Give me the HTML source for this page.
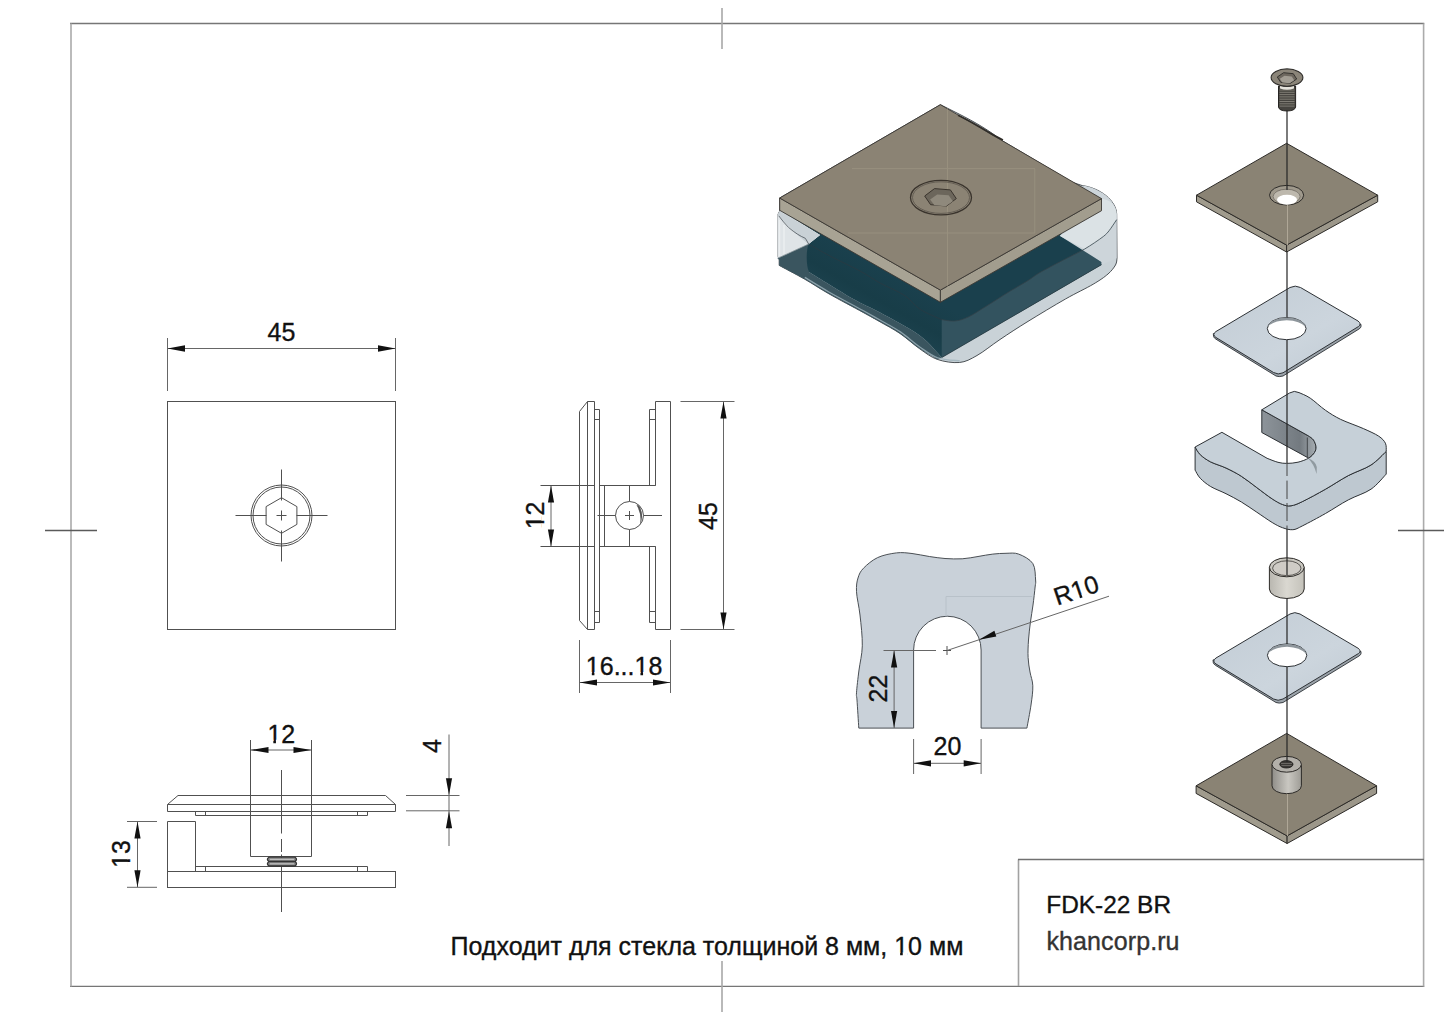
<!DOCTYPE html>
<html><head><meta charset="utf-8">
<style>
html,body{margin:0;padding:0;background:#fff;width:1444px;height:1021px;overflow:hidden}
svg{display:block}
text{font-family:"Liberation Sans",sans-serif;fill:#111;stroke:#111;stroke-width:0.35px}
.fr{stroke:#777;stroke-width:1.6;fill:none}
.ln{stroke:#505050;stroke-width:1;fill:none}
.dm{stroke:#666;stroke-width:1;fill:none}
.ar{fill:#111;stroke:none}
</style></head>
<body>
<svg width="1444" height="1021" viewBox="0 0 1444 1021">
<!-- frame -->
<path d="M70,23.5H1424.3M70,986.4H1424.3" stroke="#767676" stroke-width="1.4" fill="none"/>
<path d="M71,23.5V986.4M1423.6,23.5V986.4" stroke="#ababab" stroke-width="1.6" fill="none"/>
<line x1="722" y1="8" x2="722" y2="49" stroke="#a8a8a8" stroke-width="1.6"/>
<line x1="722" y1="961" x2="722" y2="1012" stroke="#a8a8a8" stroke-width="1.6"/>
<line x1="45" y1="530.5" x2="97" y2="530.5" stroke="#5a5a5a" stroke-width="1.4"/>
<line x1="1398" y1="530.5" x2="1444" y2="530.5" stroke="#5a5a5a" stroke-width="1.4"/>
<!-- title block -->
<path d="M1018.5,986V859.5" stroke="#a2a2a2" stroke-width="1.6" fill="none"/><path d="M1018,859.5H1424" stroke="#717171" stroke-width="1.4" fill="none"/>
<text x="1046.3" y="912.6" font-size="24.4">FDK-22 BR</text>
<text x="1046.5" y="950.2" font-size="25" letter-spacing="0.1" style="fill:#333;stroke:#333">khancorp.ru</text>
<text x="450.5" y="955.4" font-size="25">Подходит для стекла толщиной 8 мм, 10 мм</text>


<!-- ASSEMBLY 3D -->
<defs>
<linearGradient id="hL" x1="0" y1="0" x2="1" y2="0">
<stop offset="0" stop-color="#c9d1d7"/><stop offset="0.15" stop-color="#e3e8eb"/><stop offset="0.4" stop-color="#d2d9de"/><stop offset="1" stop-color="#c3ccd2"/>
</linearGradient>
<linearGradient id="teal" gradientUnits="userSpaceOnUse" x1="0" y1="0" x2="-40" y2="70">
<stop offset="0" stop-color="#1a404f"/><stop offset="1" stop-color="#1a404f"/>
</linearGradient>
<linearGradient id="tealL" gradientUnits="userSpaceOnUse" x1="780" y1="211" x2="756.6" y2="251.8">
<stop offset="0" stop-color="#1a404d"/><stop offset="0.6" stop-color="#183d48"/><stop offset="1" stop-color="#1c424e"/>
</linearGradient>
</defs>
<g id="asm">
<!-- holder silhouette -->
<path d="M778,214.3 L778,256.5 L779.2,259.5 L779.2,265.4 C783.4,267.7 796.1,274.3 804.4,279.0 C812.7,283.7 819.1,288.2 828.9,293.8 C838.7,299.4 854.6,307.7 863.1,312.4 C871.6,317.1 873.9,318.3 880.0,321.8 C886.1,325.3 893.4,329.0 900.0,333.5 C906.6,338.0 913.5,344.5 919.7,348.8 C925.9,353.1 930.7,357.1 937.3,359.4 C943.9,361.7 952.8,363.1 959.4,362.5 C966.0,361.9 970.2,359.3 977.0,355.5 C983.8,351.7 991.5,345.2 1000.0,339.5 C1008.5,333.8 1017.1,328.1 1028.0,321.4 C1038.9,314.7 1054.4,305.3 1065.3,299.1 C1076.2,292.9 1086.1,288.4 1093.2,284.2 C1100.3,280.0 1104.3,277.2 1108.0,274.0 C1111.7,270.8 1114.0,267.6 1115.5,265.0 C1117.0,262.4 1116.8,259.3 1117.0,258.2 L1116.7,214 C1116,200 1100,188 1082,185.5 L1072.7,182.4 L1002,140.6 C990,131 975,122 958,113.5 L940.4,104.7 L779.7,198 L779.7,211 Z" fill="#c9d2d7" stroke="#3a3f44" stroke-width="0.9"/>
<!-- strip lower-left -->
<path d="M777.6,258.3 L808.6,244.1 L809,272 C816.3,276.5 841.1,292.0 852.9,298.8 C864.7,305.6 868.9,306.5 880.0,312.6 C891.1,318.7 909.4,328.1 919.7,335.6 C930.0,343.1 938.0,353.9 941.7,357.6 L937.3,359.4 C934.4,357.6 925.9,353.1 919.7,348.8 C913.5,344.5 906.6,338.0 900.0,333.5 C893.4,329.0 886.1,325.3 880.0,321.8 C873.9,318.3 871.6,317.1 863.1,312.4 C854.6,307.7 838.7,299.4 828.9,293.8 C819.1,288.2 812.7,283.7 804.4,279.0 C796.1,274.3 783.4,267.7 779.2,265.4 L779.2,260 Z" fill="#3a555f"/>
<!-- dark teal -->
<path d="M779.7,209.5 L940.4,300.5 L1059.7,233.5 L1101.5,261.9 L1101.5,264.7 L941.7,357.6 C938.0,353.9 930.0,343.1 919.7,335.6 C909.4,328.1 891.1,318.7 880.0,312.6 C868.9,306.5 864.7,305.6 852.9,298.8 C841.1,292.0 816.3,276.5 809.0,272.0 C806,266 806,250 808.6,244.1 L820,235 Z" fill="url(#tealL)"/>
<path d="M804.8,277.4 C808.9,279.9 819.5,286.6 829.3,292.2 C839.1,297.8 855.0,306.1 863.5,310.8 C872.0,315.5 874.2,316.7 880.4,320.2 C886.5,323.7 893.8,327.4 900.4,331.9 C907.0,336.4 913.9,342.9 920.1,347.2 C926.3,351.5 931.1,355.5 937.7,357.8 C944.3,360.1 956.1,360.4 959.8,360.9" fill="none" stroke="#9fb3bc" stroke-width="1.3" opacity="0.8"/>
<!-- right mid teal -->
<path d="M941.7,319.7 C943.9,319.9 950.6,321.4 955.0,321.0 C959.4,320.6 963.1,319.4 968.2,317.0 C973.3,314.6 978.9,310.7 985.8,306.5 C992.7,302.3 1002.4,295.9 1009.4,291.6 C1016.4,287.3 1022.9,283.7 1028.0,280.5 C1033.1,277.3 1033.8,276.1 1040.0,272.5 C1046.2,268.9 1057.9,262.9 1065.3,259.0 C1072.7,255.1 1081.3,250.8 1084.5,249.1 L1101.5,261.9 L1101.5,264.7 L941.7,357.6 Z" fill="#33535f"/>

<!-- left light jaw -->
<path d="M777.6,215 L779.7,211 L820,235 L808.6,244.1 L777.6,258.3 Z" fill="#dfe4e7"/>
<path d="M777.6,215 L779.7,211 L820,235 L808.6,244.1 C800,238 790,228 778.7,215.8 Z" fill="#c9d1d6"/>
<path d="M778.7,215.8 C782,220 785,224 788.6,227.5 C795,233 800,236 805.3,238.3 C806.5,240 807.5,242 808.6,244.1" fill="none" stroke="#4c545a" stroke-width="0.8"/>
<path d="M779.5,220V256M784,225V254" stroke="#f2f4f5" stroke-width="1.5" opacity="0.7"/>
<path d="M777.6,258.3 L808.6,244.1" stroke="#7e8b91" stroke-width="0.8"/>
<path d="M808.6,244.1 C812.2,246.1 821.4,251.5 830.0,256.0 C838.6,260.5 851.7,266.5 860.0,271.0 C868.3,275.5 872.5,278.9 880.0,283.0 C887.5,287.1 898.4,291.3 905.0,295.7 C911.6,300.1 913.6,305.1 919.7,309.1 C925.8,313.1 938.0,317.9 941.7,319.7" fill="none" stroke="#2a3a42" stroke-width="0.8"/>
<!-- right light jaw -->
<path d="M1101.5,210.7 L1101.5,198.6 L1082,185.5 C1100,188 1116,200 1116.7,214 L1116.7,258.2 L1101.5,264.7 L1101.5,261.9 L1059.7,235.8 L1080,224 Z" fill="#cdd5da"/>
<path d="M1101.5,210.7 L1059.7,235.8 L1084.5,249.1 C1095,243 1100,240 1103.6,236.3 C1108,232 1111.5,228 1116.7,219.6 L1116.7,214 C1116,205 1110,200 1101.5,198.6 Z" fill="#dbe2e5"/>
<path d="M1116.7,219.6 C1110.2,229.4 1108.1,232.8 1103.6,236.3 C1099.1,239.8 1090.9,245.3 1084.5,249.1 C1078.1,252.9 1072.7,255.1 1065.3,259.0 C1057.9,262.9 1046.2,268.9 1040.0,272.5 C1033.8,276.1 1033.1,277.3 1028.0,280.5 C1022.9,283.7 1016.4,287.3 1009.4,291.6 C1002.4,295.9 992.7,302.3 985.8,306.5 C978.9,310.7 973.3,314.6 968.2,317.0 C963.1,319.4 959.4,320.6 955.0,321.0 C950.6,321.4 943.9,319.9 941.7,319.7" fill="none" stroke="#33424a" stroke-width="0.8"/>
<path d="M1101.5,264.7 L941.7,357.6" stroke="#2b3c44" stroke-width="0.8" fill="none"/>
<!-- plate -->
<polygon points="779.7,198 940.4,290.1 940.4,302.3 779.7,210.3" fill="#a8a394" stroke="#3b3833" stroke-width="0.9"/>
<polygon points="940.4,290.1 1101.5,198.6 1101.5,210.7 940.4,302.3" fill="#a29d8e" stroke="#3b3833" stroke-width="0.9"/>
<polygon points="940.4,104.7 1101.5,198.6 940.4,290.1 779.7,198" fill="#8b8374" stroke="#3b3833" stroke-width="0.9"/>
<path d="M947.5,108V289M852,168.6H1035M848,233H1035M1034.8,168.6V233" stroke="#b0a892" stroke-width="1" opacity="0.35"/>
<path d="M958,115.3 C968,120 980,127 990,133 C994,135.5 998,137.5 1003,140" stroke="#2f2c28" stroke-width="1.5" fill="none"/>
<!-- socket -->
<ellipse cx="941" cy="197.6" rx="30.5" ry="17.3" fill="none" stroke="#3a342d" stroke-width="1.3"/>
<ellipse cx="941" cy="197.6" rx="28.5" ry="15.8" fill="none" stroke="#5a544b" stroke-width="0.8"/>
<polygon points="956.3,198.6 946.5,206.0 930.6,204.7 924.7,196.0 934.5,188.6 950.4,189.9" fill="#6c665b" stroke="#3a342d" stroke-width="1"/>
<polygon points="952.9,201.2 945.8,206.2 934.4,205.3 930.1,199.4 937.2,194.4 948.6,195.3" fill="#8f897c"/>
</g>


<!-- EXPLODED VIEW -->
<defs>
<linearGradient id="cylG" x1="0" y1="0" x2="1" y2="0">
<stop offset="0" stop-color="#b9b7b0"/><stop offset="0.5" stop-color="#dad8d1"/><stop offset="1" stop-color="#c4c2ba"/>
</linearGradient>
<linearGradient id="nutG" x1="0" y1="0" x2="1" y2="0">
<stop offset="0" stop-color="#8f8d88"/><stop offset="0.55" stop-color="#c9c7c1"/><stop offset="1" stop-color="#9e9c96"/>
</linearGradient>
<linearGradient id="gasG" x1="0" y1="0" x2="1" y2="1">
<stop offset="0" stop-color="#c2ccd5"/><stop offset="0.6" stop-color="#ccd5dd"/><stop offset="1" stop-color="#c0cad3"/>
</linearGradient>
<linearGradient id="slotG" x1="0" y1="0" x2="1" y2="0">
<stop offset="0" stop-color="#8d949a"/><stop offset="0.7" stop-color="#737a80"/><stop offset="1" stop-color="#a6adb2"/>
</linearGradient>
</defs>
<g id="exploded" stroke-linejoin="round">
<!-- screw -->
<g>
<path d="M1278.5,86 L1278.5,107 Q1279,110.8 1287,111 Q1295,110.8 1295.6,107 L1295.6,86 Z" fill="#46443f" stroke="#262422" stroke-width="1"/>
<path d="M1279.5,90H1294.5M1279.5,92.3H1294.5M1279.5,94.6H1294.5M1279.5,96.9H1294.5M1279.5,99.2H1294.5M1279.5,101.5H1294.5M1279.5,103.8H1294.5M1279.5,106.1H1294.5" stroke="#8e8a82" stroke-width="0.8"/>
<path d="M1280,85.5 Q1287,88.5 1294,85.5 L1294,88.5 Q1287,91 1280,88.5Z" fill="#e6e3dc"/>
<ellipse cx="1287" cy="77.6" rx="15.9" ry="8.7" fill="#8b8579" stroke="#2e2c29" stroke-width="1.1"/>
<polygon points="1296.7,79.0 1290.4,83.3 1280.7,82.3 1277.3,77.0 1283.6,72.7 1293.3,73.7" fill="#6d675e" stroke="#2e2c29" stroke-width="0.9"/>
<polygon points="1294.2,80.2 1289.5,83.2 1282.3,82.5 1279.8,78.8 1284.5,75.8 1291.7,76.5" fill="#a29d93"/>
</g>
<!-- top plate -->
<polygon points="1196.5,195.2 1286.6,245.1 1286.6,252 1196.5,201.8" fill="#a09b8d" stroke="#2d2b28" stroke-width="1"/>
<polygon points="1286.6,245.1 1377.7,195.2 1377.7,201.8 1286.6,252" fill="#9c978a" stroke="#2d2b28" stroke-width="1"/>
<polygon points="1286.6,143.3 1377.7,195.2 1286.6,245.1 1196.5,195.2" fill="#8a8374" stroke="#2d2b28" stroke-width="1"/>
<ellipse cx="1286.6" cy="195.2" rx="17.1" ry="9.8" fill="#9f998c" stroke="#2d2b28" stroke-width="1"/>
<ellipse cx="1286.6" cy="196.5" rx="13.5" ry="7.3" fill="#bdb8ad" stroke="#5a564f" stroke-width="0.6"/>
<ellipse cx="1287" cy="199.8" rx="10" ry="5" fill="#ffffff"/>
<path d="M1287.5,205V245" stroke="#b3ab9b" stroke-width="0.9"/>
<!-- gasket 1 -->
<path d="M1213.3,333.7 L1213.6,336.6 Q1214,338 1216,339.2 L1276,376 Q1279,377.2 1283,376 L1359,329 Q1361,327.8 1361,326.5 L1361,324.4 Z" fill="#9ba3aa" stroke="#2d3135" stroke-width="0.9"/>
<path d="M1290,287.5 Q1295.3,284.8 1300.5,287.5 L1358,321 Q1362,324 1358.5,326.5 L1283,372.8 Q1278.1,375.2 1273.5,372.5 L1216,337.5 Q1211.5,334.5 1216,331.5 Z" fill="url(#gasG)" stroke="#2d3135" stroke-width="1"/>
<ellipse cx="1286.7" cy="328.6" rx="19.4" ry="11.1" fill="#ffffff" stroke="#2d3135" stroke-width="1"/>
<path d="M1267.6,327 Q1270,318.5 1286.7,317.6 Q1303,318.5 1305.8,327 Q1300,320.8 1286.7,320.3 Q1273,320.8 1267.6,327Z" fill="#8e969c"/>
<!-- U holder -->
<path d="M1195.1,447 L1195.1,470.1 C1196.0,471.5 1197.7,475.6 1200.3,478.3 C1202.9,481.0 1206.3,483.9 1210.6,486.5 C1214.9,489.1 1220.9,491.1 1226.0,493.7 C1231.1,496.3 1236.3,498.9 1241.4,502.0 C1246.5,505.1 1251.7,508.8 1256.8,512.2 C1261.9,515.6 1267.9,519.9 1272.2,522.5 C1276.5,525.1 1279.1,526.5 1282.5,527.7 C1285.9,528.9 1289.4,530.0 1292.8,529.7 C1296.2,529.4 1297.3,528.4 1302.8,525.7 C1308.2,523.0 1317.9,517.8 1325.5,513.5 C1333.1,509.2 1340.7,503.9 1348.3,499.9 C1355.9,495.8 1364.7,493.5 1371.0,489.2 C1377.3,484.9 1383.7,476.6 1386.2,474.1 L1386.2,451.3 C1383.7,453.6 1377.3,460.9 1371.0,465.0 C1364.7,469.1 1355.9,471.6 1348.3,475.6 C1340.7,479.6 1333.1,484.9 1325.5,489.2 C1317.9,493.5 1308.5,498.6 1302.8,501.4 C1297.0,504.2 1294.4,505.3 1291.0,505.8 C1287.6,506.3 1285.6,505.6 1282.5,504.5 C1279.4,503.4 1276.5,501.7 1272.2,498.9 C1267.9,496.1 1261.9,491.4 1256.8,487.6 C1251.7,483.8 1246.5,479.6 1241.4,476.3 C1236.3,473.0 1231.1,470.4 1226.0,468.0 C1220.9,465.6 1214.9,464.1 1210.6,461.9 C1206.3,459.7 1202.9,457.2 1200.3,454.7 C1197.7,452.2 1196.0,448.3 1195.1,447.0 Z" fill="#bec8d0" stroke="#2d3135" stroke-width="1"/>
<path d="M1261.8,409.8 L1261.8,432.5 L1307.3,457.4 L1308.8,458.1 C1309.8,457.2 1313.3,454.4 1314.5,452.5 C1315.7,450.6 1316.2,448.9 1316.0,446.8 C1315.8,444.7 1314.7,441.8 1313.5,440.0 C1312.3,438.2 1309.6,436.8 1308.8,436.1 Z" fill="url(#slotG)" stroke="#2d3135" stroke-width="1"/>
<line x1="1307.3" y1="437.5" x2="1307.3" y2="457.4" stroke="#2d3135" stroke-width="0.8"/>
<path d="M1195.1,447 L1221.9,432.3 L1267.1,458.3 C1268.9,459.0 1274.8,461.5 1278.0,462.3 C1281.2,463.1 1283.3,463.4 1286.6,463.4 C1289.9,463.4 1294.3,463.1 1298.0,462.2 C1301.7,461.3 1306.0,459.7 1308.8,458.1 C1311.5,456.5 1313.3,454.4 1314.5,452.5 C1315.7,450.6 1316.2,448.9 1316.0,446.8 C1315.8,444.7 1314.7,441.8 1313.5,440.0 C1312.3,438.2 1309.6,436.8 1308.8,436.1 L1261.8,409.8 L1289.5,393 Q1294.4,390 1299,392.6 C1300.9,393.5 1305.9,395.2 1310.3,398.2 C1314.7,401.1 1320.4,406.8 1325.5,410.3 C1330.6,413.8 1334.4,416.3 1340.7,419.4 C1347.0,422.4 1357.1,425.8 1363.4,428.6 C1369.7,431.4 1374.9,433.7 1378.6,436.1 C1382.3,438.5 1384.1,440.7 1385.4,443.2 C1386.7,445.7 1386.1,449.9 1386.2,451.3 C1383.7,453.6 1377.3,460.9 1371.0,465.0 C1364.7,469.1 1355.9,471.6 1348.3,475.6 C1340.7,479.6 1333.1,484.9 1325.5,489.2 C1317.9,493.5 1308.5,498.6 1302.8,501.4 C1297.0,504.2 1294.4,505.3 1291.0,505.8 C1287.6,506.3 1285.6,505.6 1282.5,504.5 C1279.4,503.4 1276.5,501.7 1272.2,498.9 C1267.9,496.1 1261.9,491.4 1256.8,487.6 C1251.7,483.8 1246.5,479.6 1241.4,476.3 C1236.3,473.0 1231.1,470.4 1226.0,468.0 C1220.9,465.6 1214.9,464.1 1210.6,461.9 C1206.3,459.7 1202.9,457.2 1200.3,454.7 C1197.7,452.2 1196.0,448.3 1195.1,447.0 Z" fill="#c6d0d8" stroke="#2d3135" stroke-width="1"/>
<path d="M1308,458.3 Q1315.5,461 1316.8,467 L1316.6,474 Q1314,464 1308,458.3Z" fill="#6c767c" opacity="0.6"/>
<!-- spacer -->
<path d="M1269.4,567.3 L1269.4,589 A17.4,9.5 0 0 0 1304.2,589 L1304.2,567.3 Z" fill="url(#cylG)" stroke="#2d2b28" stroke-width="1"/>
<ellipse cx="1286.8" cy="567.3" rx="17.4" ry="9.5" fill="#c9c7c0" stroke="#2d2b28" stroke-width="1"/>
<ellipse cx="1286.8" cy="568.2" rx="14.2" ry="7.4" fill="#cfccc6" stroke="#3c3a36" stroke-width="0.8"/>
<!-- gasket 2 -->
<path d="M1213,659.9 L1213.3,662.8 Q1213.8,664.3 1215.8,665.5 L1276,702.5 Q1279,703.7 1283,702.5 L1359,656 Q1361,654.8 1361,653.5 L1361,651.5 Z" fill="#9ba3aa" stroke="#2d3135" stroke-width="0.9"/>
<path d="M1290,614 Q1294.7,611.3 1300,614 L1358,648.2 Q1362,651 1358.5,653.5 L1283,699 Q1278,701.5 1273.5,699 L1216,664 Q1211.5,661 1216,658 Z" fill="url(#gasG)" stroke="#2d3135" stroke-width="1"/>
<ellipse cx="1287.1" cy="655.3" rx="19.7" ry="11.4" fill="#ffffff" stroke="#2d3135" stroke-width="1"/>
<path d="M1267.6,654 Q1270,644.8 1287.1,643.9 Q1304,644.8 1306.6,654 Q1300,647.3 1287.1,646.7 Q1273,647.3 1267.6,654Z" fill="#8e969c"/>
<!-- bottom plate -->
<polygon points="1196.1,785.8 1287.1,835.9 1287.1,843.5 1196.1,793.4" fill="#a09b8d" stroke="#2d2b28" stroke-width="1"/>
<polygon points="1287.1,835.9 1376.6,785.8 1376.6,793.4 1287.1,843.5" fill="#9c978a" stroke="#2d2b28" stroke-width="1"/>
<polygon points="1286.7,733.4 1376.6,785.8 1287.1,835.9 1196.1,785.8" fill="#8a8374" stroke="#2d2b28" stroke-width="1"/>
<!-- nut -->
<path d="M1272,764.3 L1272,785.8 A14.7,7.9 0 0 0 1301.4,785.8 L1301.4,764.3 Z" fill="url(#nutG)" stroke="#2d2b28" stroke-width="1"/>
<ellipse cx="1286.7" cy="764.3" rx="14.7" ry="7.9" fill="#b3b0aa" stroke="#2d2b28" stroke-width="1"/>
<ellipse cx="1286.4" cy="764.3" rx="6.6" ry="3.7" fill="#3a3835" stroke="#1a1918" stroke-width="0.8"/>
<path d="M1281,763.5H1292M1281.5,765.5H1291.5" stroke="#8a8782" stroke-width="0.6"/>
<!-- axis line -->
<path d="M1287,110.5V143.5M1287,143.5V190M1287,252V317.5M1287,340V373M1287,373V391M1287,391V463M1287,529V575M1287,598V612M1287,612V644M1287,667V700M1287,700V733.4M1287,733.4V762" stroke="#252525" stroke-width="1.2" fill="none"/>
<path d="M1287,463V476M1287,480.6V499M1287,503V521M1287,525.5V529" stroke="#454545" stroke-width="1" fill="none"/>
<path d="M1287.5,794V836" stroke="#b3ab9b" stroke-width="0.9"/>
</g>


<!-- U PROFILE 2D -->
<g id="uprof">
<path d="M858.8,728.1 C858.5,723.4 857.4,705.9 857.0,700.0 C856.6,694.1 856.2,697.8 856.5,692.8 C856.8,687.8 858.0,677.8 859.0,670.0 C860.0,662.2 862.1,655.0 862.3,645.8 C862.5,636.6 861.0,624.0 860.0,615.0 C859.0,606.0 856.8,597.9 856.5,591.7 C856.2,585.5 856.8,581.9 858.0,578.0 C859.2,574.1 860.2,571.6 863.5,568.2 C866.8,564.8 872.1,560.2 877.6,557.6 C883.1,555.0 890.7,553.6 896.4,552.9 C902.1,552.2 906.5,552.9 912.0,553.5 C917.5,554.1 923.8,555.7 929.3,556.5 C934.8,557.3 939.5,558.1 945.0,558.5 C950.5,558.9 956.7,559.1 962.2,558.8 C967.7,558.5 972.9,557.3 978.0,556.5 C983.1,555.7 988.1,554.6 992.8,554.1 C997.5,553.6 1001.7,553.3 1006.0,553.3 C1010.3,553.3 1014.2,552.4 1018.7,554.1 C1023.2,555.8 1030.0,559.2 1032.8,563.5 C1035.6,567.8 1035.2,576.1 1035.6,580.0 C1036.0,583.9 1035.5,582.8 1035.1,587.0 C1034.7,591.2 1033.8,599.1 1033.0,605.0 C1032.2,610.9 1031.2,616.5 1030.4,622.3 C1029.7,628.1 1028.9,634.1 1028.5,640.0 C1028.1,645.9 1027.8,652.2 1028.1,657.5 C1028.3,662.8 1029.2,667.3 1030.0,672.0 C1030.8,676.7 1032.6,680.3 1032.8,685.8 C1033.0,691.3 1032.0,698.0 1031.0,705.0 C1030.0,712.0 1027.6,724.2 1026.9,728.1 L981.1,728.1 L981.1,650 A33.75,33.75 0 0 0 913.6,650 L913.6,728.1 Z" fill="#c9d1d9" stroke="#4a4f54" stroke-width="1"/>
<path d="M946,616.5V596.5H1032" stroke="#b8c1c9" stroke-width="1" fill="none"/>
<path d="M943,650.5H951M947,646V655" class="ln"/>
<!-- dim 22 -->
<path d="M883.5,650.5H936" class="dm"/>
<line x1="894.1" y1="651" x2="894.1" y2="728" class="dm"/>
<polygon points="894.1,650.5 891,667.5 897.2,667.5" class="ar"/>
<polygon points="894.1,728.1 891,711.1 897.2,711.1" class="ar"/>
<text font-size="25" text-anchor="middle" transform="translate(887,688.6) rotate(-90)">22</text>
<!-- dim 20 -->
<path d="M913.6,739V774M981.1,739V774" class="dm"/>
<line x1="914" y1="763.3" x2="981" y2="763.3" class="dm"/>
<polygon points="913.6,763.3 931,760.2 931,766.4" class="ar"/>
<polygon points="981.1,763.3 963.7,760.2 963.7,766.4" class="ar"/>
<text x="947.4" y="755.3" font-size="25" text-anchor="middle">20</text>
<!-- R10 -->
<line x1="947" y1="650.5" x2="1109" y2="596.2" class="dm"/>
<polygon points="978.9,639.8 994.4,630.8 996.3,636.6" class="ar"/>
<text font-size="25" text-anchor="middle" transform="translate(1079,598.5) rotate(-18.6)">R10</text>
</g>

<!-- TOP VIEW square -->
<g id="topview">
<rect x="167.5" y="401.5" width="228" height="228" class="ln"/>
<line x1="167.5" y1="338" x2="167.5" y2="391" class="dm"/>
<line x1="395.5" y1="338" x2="395.5" y2="391" class="dm"/>
<line x1="168" y1="348.5" x2="395" y2="348.5" class="dm"/>
<polygon points="167.5,348.5 185,345.3 185,351.7" class="ar"/>
<polygon points="395.5,348.5 378,345.3 378,351.7" class="ar"/>
<text x="281.5" y="341" font-size="25" text-anchor="middle">45</text>
<circle cx="281.5" cy="515.5" r="30.5" class="ln"/>
<circle cx="281.5" cy="515.5" r="28.5" class="ln"/>
<polygon points="281.5,497.7 296.9,506.6 296.9,524.4 281.5,533.3 266.1,524.4 266.1,506.6" class="ln"/>
<path d="M235.5,515.5H266.5M276.5,515.5H286.5M296.5,515.5H327.5M281.5,469.5V500.5M281.5,510.5V520.5M281.5,530.5V561.5" class="ln"/>
</g>

<!-- SIDE VIEW -->
<g id="sideview">
<path d="M579.5,411.5V620.5L587.5,629.5H594.5V401.5H587.5L579.5,411.5Z" class="ln"/>
<line x1="587.5" y1="401.5" x2="587.5" y2="629.5" class="ln"/>
<path d="M594.5,409.5H599.5V622.5H594.5M594.5,419.5H599.5M594.5,611.5H599.5" class="ln"/>
<path d="M670.5,401.5V629.5H655.5V546.5H649.5V622.5M649.5,611.5H655.5M649.5,622.5H655.5" class="ln"/>
<path d="M670.5,401.5H655.5V485.5H649.5V409.5H655.5M649.5,419.5H655.5" class="ln"/>
<path d="M540.5,485.5H594.5M599.5,485.5H655.5M540.5,546.5H594.5M599.5,546.5H655.5" class="ln"/>
<line x1="604.5" y1="485.5" x2="604.5" y2="546.5" class="ln"/>
<path d="M639,505.5 Q645,515.5 639.5,526 Q642.5,515.5 636.5,505 Z" fill="#555"/>
<circle cx="629.5" cy="515.5" r="14" class="ln"/>
<path d="M629.5,485.5V501.5M629.5,529.5V546.5M597.5,515.5H615.5M643.5,515.5H662M625,515.5H634M629.5,511V520" class="ln"/>
<!-- dim 12 -->
<line x1="551" y1="486" x2="551" y2="546" class="dm"/>
<polygon points="551,485.5 547.9,502.5 554.1,502.5" class="ar"/>
<polygon points="551,546.5 547.9,529.5 554.1,529.5" class="ar"/>
<text font-size="25" text-anchor="middle" transform="translate(544.3,515.4) rotate(-90)">12</text>
<!-- dim 45 -->
<path d="M680.5,401.5H734.5M680.5,629.5H734.5" class="dm"/>
<line x1="723.5" y1="402" x2="723.5" y2="629" class="dm"/>
<polygon points="723.5,401.5 720.4,418.5 726.6,418.5" class="ar"/>
<polygon points="723.5,629.5 720.4,612.5 726.6,612.5" class="ar"/>
<text font-size="25" text-anchor="middle" transform="translate(716.5,516) rotate(-90)">45</text>
<!-- dim 16...18 -->
<path d="M579.5,640V693M670.5,640V693" class="dm"/>
<line x1="580" y1="682.5" x2="670" y2="682.5" class="dm"/>
<polygon points="579.5,682.5 597,679.5 597,685.5" class="ar"/>
<polygon points="670.5,682.5 653,679.5 653,685.5" class="ar"/>
<text x="624.1" y="675" font-size="25" text-anchor="middle">16...18</text>
</g>

<!-- FRONT VIEW -->
<g id="frontview">
<path d="M178,795.5H385.5L395.5,804.5V811.5H167.5V804.5L178,795.5Z" class="ln"/>
<line x1="167.5" y1="804.5" x2="395.5" y2="804.5" class="ln"/>
<path d="M195.5,811.5V815.5H367.5V811.5M205.5,811.5V815.5M357.5,811.5V815.5" class="ln"/>
<rect x="167.5" y="871.5" width="228" height="16" class="ln"/>
<path d="M167.5,871.5V821.5H195.5V871.5" class="ln"/>
<path d="M195.5,871.5V866.5H367.5V871.5M205.5,866.5V871.5M357.5,866.5V871.5" class="ln"/>
<path d="M250.5,740V856.5H311.5V740" class="ln"/>
<path d="M281.5,770V833.5M281.5,839V852M281.5,854.5V912" class="ln"/>
<path d="M269,857.2 L295,857.2 Q298,859.3 295,861.5 L269,861.5 Q265.8,859.3 269,857.2Z M269,861.5 L295,861.5 Q298,863.8 295,866 L269,866 Q265.8,863.8 269,861.5Z" fill="#8a8a8a" stroke="#333" stroke-width="1.3"/>
<path d="M270,859.4H294M270,863.8H294" stroke="#ccc" stroke-width="0.9"/>
<!-- dim 12 -->
<line x1="251" y1="750" x2="311" y2="750" class="dm"/>
<polygon points="250.5,750 268.5,746.9 268.5,753.1" class="ar"/>
<polygon points="311.5,750 293.5,746.9 293.5,753.1" class="ar"/>
<text x="281.3" y="742.6" font-size="25" text-anchor="middle">12</text>
<!-- dim 4 -->
<path d="M406,795.5H459.5M406,810.8H459.5" class="dm"/>
<line x1="449" y1="734.5" x2="449" y2="846" class="dm"/>
<polygon points="449,795 445.9,778.3 452.1,778.3" class="ar"/>
<polygon points="449,811.3 445.9,828.3 452.1,828.3" class="ar"/>
<text font-size="25" text-anchor="middle" transform="translate(440.8,746) rotate(-90)">4</text>
<!-- dim 13 -->
<path d="M127,821.5H157M127,887.3H157" class="dm"/>
<line x1="137.5" y1="822" x2="137.5" y2="887" class="dm"/>
<polygon points="137.5,821.5 134.4,838.5 140.6,838.5" class="ar"/>
<polygon points="137.5,887.3 134.4,870.3 140.6,870.3" class="ar"/>
<text font-size="25" text-anchor="middle" transform="translate(130,854) rotate(-90)">13</text>
</g>

<!-- arial-style 1 -->
<path d="M894.99,952.50H900.14V956.90H894.99ZM902.74,952.50H907.79V956.90H902.74Z" fill="#fff"/>
<path transform="translate(1079,598.5) rotate(-18.6)" d="M-4.09,-2.90H1.06V1.50H-4.09ZM3.66,-2.90H8.71V1.50H3.66Z" fill="#fff"/>
<path transform="translate(544.3,515.4) rotate(-90)" d="M-13.11,-2.90H-7.96V1.50H-13.11ZM-5.36,-2.90H-0.31V1.50H-5.36Z" fill="#fff"/>
<path d="M586.67,672.10H591.82V676.50H586.67ZM594.42,672.10H599.47V676.50H594.42Z" fill="#fff"/>
<path d="M635.31,672.10H640.46V676.50H635.31ZM643.06,672.10H648.11V676.50H643.06Z" fill="#fff"/>
<path d="M268.19,739.70H273.34V744.10H268.19ZM275.94,739.70H280.99V744.10H275.94Z" fill="#fff"/>
<path transform="translate(130,854) rotate(-90)" d="M-13.11,-2.90H-7.96V1.50H-13.11ZM-5.36,-2.90H-0.31V1.50H-5.36Z" fill="#fff"/>
</svg>
</body></html>
